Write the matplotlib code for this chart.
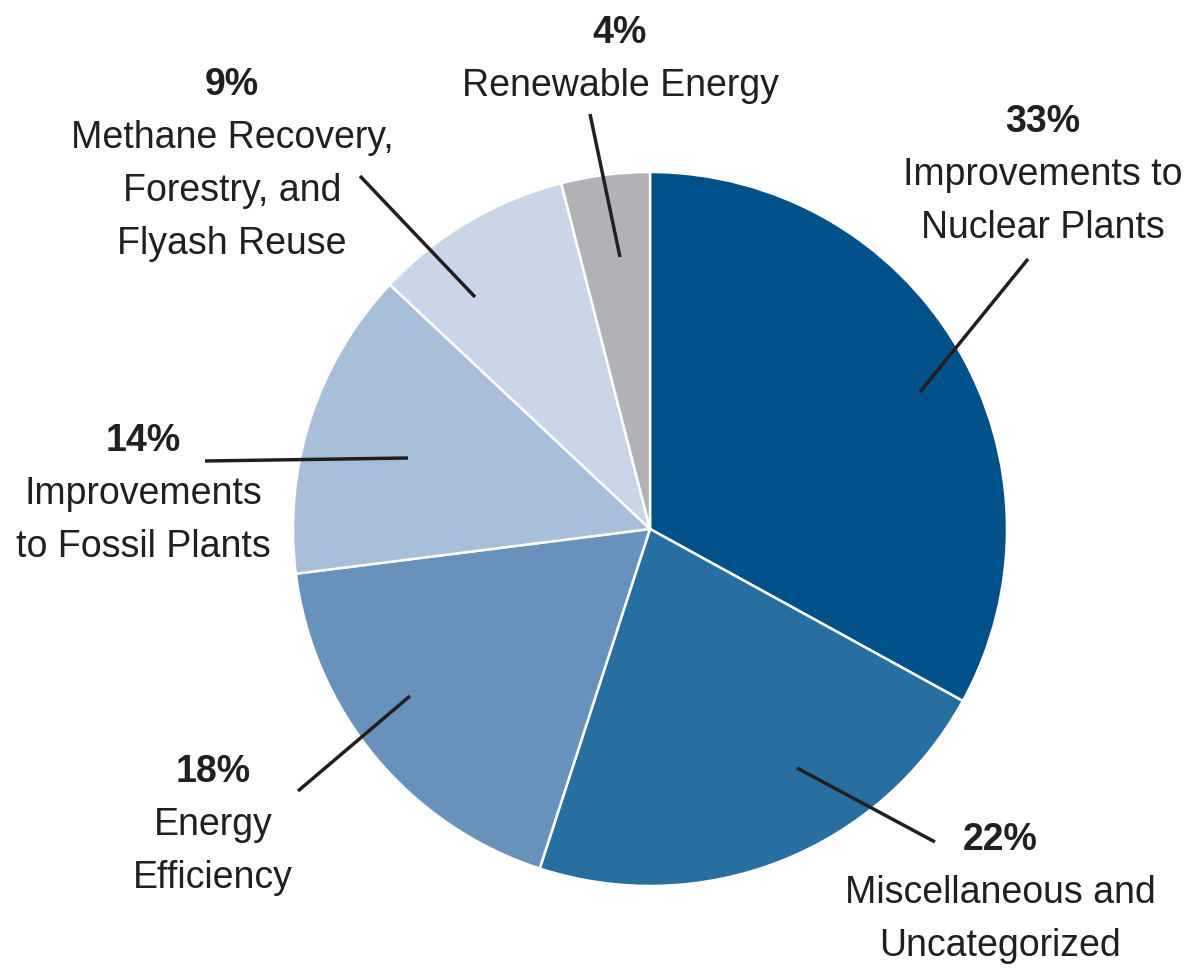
import matplotlib
matplotlib.use("Agg")
import matplotlib.pyplot as plt
from matplotlib import font_manager

names = {f.name for f in font_manager.fontManager.ttflist}
NARROW = "Liberation Sans Narrow" in names
FONT = "Liberation Sans Narrow" if NARROW else "Liberation Sans"

# ---- data ----
categories = ["Improvements to Nuclear Plants", "Miscellaneous and Uncategorized",
              "Energy Efficiency", "Improvements to Fossil Plants",
              "Methane Recovery, Forestry, and Flyash Reuse", "Renewable Energy"]
values = [33, 22, 18, 14, 9, 4]
pct_labels = ["33%", "22%", "18%", "14%", "9%", "4%"]
label_lines = [["Improvements to", "Nuclear Plants"],
               ["Miscellaneous and", "Uncategorized"],
               ["Energy", "Efficiency"],
               ["Improvements", "to Fossil Plants"],
               ["Methane Recovery,", "Forestry, and", "Flyash Reuse"],
               ["Renewable Energy"]]
colors = ["#00508a", "#276fa1", "#6792bc", "#a9bed9", "#c9d6e8", "#b1b2b6"]

# ---- layout (pixel coordinates, y down) ----
W, H = 1187, 970
fig = plt.figure(figsize=(W / 100, H / 100), dpi=100)
ax = fig.add_axes([0, 0, 1, 1])

def Y(py):
    return H - py

cx, cy, r = 650, 530, 357
ax.pie(values, colors=colors, startangle=90, counterclock=False,
       center=(cx, Y(cy)), radius=r, frame=True,
       wedgeprops=dict(edgecolor="white", linewidth=1.8))
ax.set_xlim(0, W)
ax.set_ylim(0, H)
ax.set_aspect("equal")
ax.axis("off")

label_pos = [(1043, 122), (1000, 840), (213, 772), (143, 441), (232, 85), (620, 33)]
spacing = 53
leaders = [((920, 393), (1028, 260)),
           ((797, 769), (935, 843)),
           ((410, 697), (298, 792)),
           ((408, 459), (205, 462)),
           ((475, 298), (360, 177)),
           ((620, 258), (590, 115))]

fs = 30 if NARROW else 27
for i in range(len(values)):
    x, y = label_pos[i]
    ax.text(x, Y(y), pct_labels[i], ha="center", va="center", fontsize=fs,
            fontweight="bold", family=FONT, color="#231f20")
    for j, t in enumerate(label_lines[i]):
        ax.text(x, Y(y + spacing * (j + 1)), t, ha="center", va="center",
                fontsize=fs, family=FONT, color="#231f20")
    (x0, y0), (x1, y1) = leaders[i]
    ax.plot([x0, x1], [Y(y0), Y(y1)], color="#231f20", lw=2.5,
            solid_capstyle="butt")

fig.savefig("out.png", dpi=100)
